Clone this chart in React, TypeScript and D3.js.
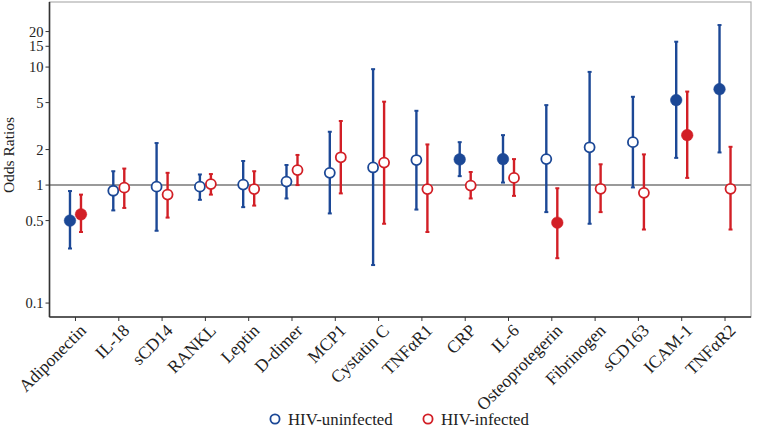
import React from "react";
import * as d3 from "d3";

const categories = ["Adiponectin","IL-18","sCD14","RANKL","Leptin","D-dimer","MCP1","Cystatin C","TNFαR1","CRP","IL-6","Osteoprotegerin","Fibrinogen","sCD163","ICAM-1","TNFαR2"];
const uninfOR = [0.50,0.895,0.97,0.97,1.01,1.07,1.27,1.41,1.63,1.65,1.66,1.66,2.09,2.31,5.25,6.5];
const uninfLo = [0.29,0.61,0.41,0.75,0.65,0.77,0.575,0.21,0.62,1.19,1.05,0.59,0.47,0.955,1.70,1.89];
const uninfHi = [0.89,1.31,2.27,1.23,1.6,1.48,2.83,9.6,4.26,2.31,2.65,4.76,9.1,5.6,16.4,22.7];
const uninfSig = [true,false,false,false,false,false,false,false,false,true,true,false,false,false,true,true];
const infOR = [0.565,0.95,0.83,1.02,0.925,1.34,1.72,1.55,0.925,0.99,1.15,0.48,0.93,0.86,2.65,0.93];
const infLo = [0.40,0.64,0.53,0.83,0.67,1.0,0.85,0.47,0.40,0.77,0.81,0.24,0.59,0.42,1.15,0.42];
const infHi = [0.83,1.38,1.27,1.24,1.31,1.8,3.49,5.09,2.21,1.29,1.66,0.94,1.5,1.82,6.2,2.11];
const infSig = [true,false,false,false,false,false,false,false,false,false,false,true,false,false,true,false];
const yTicks = [0.1,0.5,1,2,5,10,15,20];
const seriesNames = ["HIV-uninfected","HIV-infected"];

const BLUE = "#1c4896";
const RED = "#d21f26";
const FONT = "'Liberation Serif', 'DejaVu Serif', serif";

export default function App() {
  const W = 758, H = 428;
  const left = 49.5, right = 751, top = 2, bottom = 317;
  const x = d3.scalePoint<string>().domain(categories).range([left, right]).padding(0.6);
  const y = d3.scaleLog().domain([0.0762, 35.6]).range([bottom, top]);
  const dodge = 5.5;
  const series = [
    { name: seriesNames[0], color: BLUE, or: uninfOR, lo: uninfLo, hi: uninfHi, sig: uninfSig, off: -dodge },
    { name: seriesNames[1], color: RED, or: infOR, lo: infLo, hi: infHi, sig: infSig, off: dodge },
  ];
  return (
    <svg width={W} height={H} style={{ position: "absolute", left: 0, top: 0, background: "#fff" }} fontFamily={FONT}>
      <rect x={left} y={top} width={right - left} height={bottom - top} fill="#fff" stroke="#b0b0b0" strokeWidth={1.2} />
      <line x1={left} x2={right} y1={y(1)} y2={y(1)} stroke="#9a9a9a" strokeWidth={2} />
      {series.map((s) =>
        categories.map((c, i) => {
          const cx = (x(c) as number) + s.off;
          return (
            <g key={s.name + c}>
              <line x1={cx} x2={cx} y1={y(s.lo[i])} y2={y(s.hi[i])} stroke={s.color} strokeWidth={2.4} />
              <line x1={cx - 2} x2={cx + 2} y1={y(s.lo[i])} y2={y(s.lo[i])} stroke={s.color} strokeWidth={2} />
              <line x1={cx - 2} x2={cx + 2} y1={y(s.hi[i])} y2={y(s.hi[i])} stroke={s.color} strokeWidth={2} />
              {s.sig[i] ? (
                <circle cx={cx} cy={y(s.or[i])} r={5.8} fill={s.color} stroke={s.color} strokeWidth={0.5} />
              ) : (
                <circle cx={cx} cy={y(s.or[i])} r={5} fill="#fff" stroke={s.color} strokeWidth={1.8} />
              )}
            </g>
          );
        })
      )}
      <line x1={left} x2={left} y1={top} y2={bottom} stroke="#333" strokeWidth={1.6} />
      <line x1={left} x2={right} y1={bottom} y2={bottom} stroke="#333" strokeWidth={1.6} />
      {yTicks.map((t) => (
        <g key={t}>
          <line x1={left - 4} x2={left} y1={y(t)} y2={y(t)} stroke="#333" strokeWidth={1} />
          <text x={left - 6} y={y(t)} dy="0.35em" textAnchor="end" fontSize={14.5} fill="#222">{t}</text>
        </g>
      ))}
      {categories.map((c) => {
        const tx = x(c) as number;
        return (
          <g key={c}>
            <line x1={tx} x2={tx} y1={bottom} y2={bottom + 4} stroke="#333" strokeWidth={1} />
            <text transform={`translate(${tx + 3},${bottom + 6}) rotate(-45)`} textAnchor="end" dy="0.7em" fontSize={17.5} fill="#222">{c}</text>
          </g>
        );
      })}
      <text transform={`translate(14,155) rotate(-90)`} textAnchor="middle" fontSize={15.5} fill="#222">Odds Ratios</text>
      {series.map((s, k) => {
        const lx = k === 0 ? 275 : 428;
        return (
          <g key={s.name}>
            <circle cx={lx} cy={419} r={4.6} fill="none" stroke={s.color} strokeWidth={1.8} />
            <text x={lx + 13} y={419} dy="0.35em" fontSize={16.8} fill="#222">{s.name}</text>
          </g>
        );
      })}
    </svg>
  );
}
